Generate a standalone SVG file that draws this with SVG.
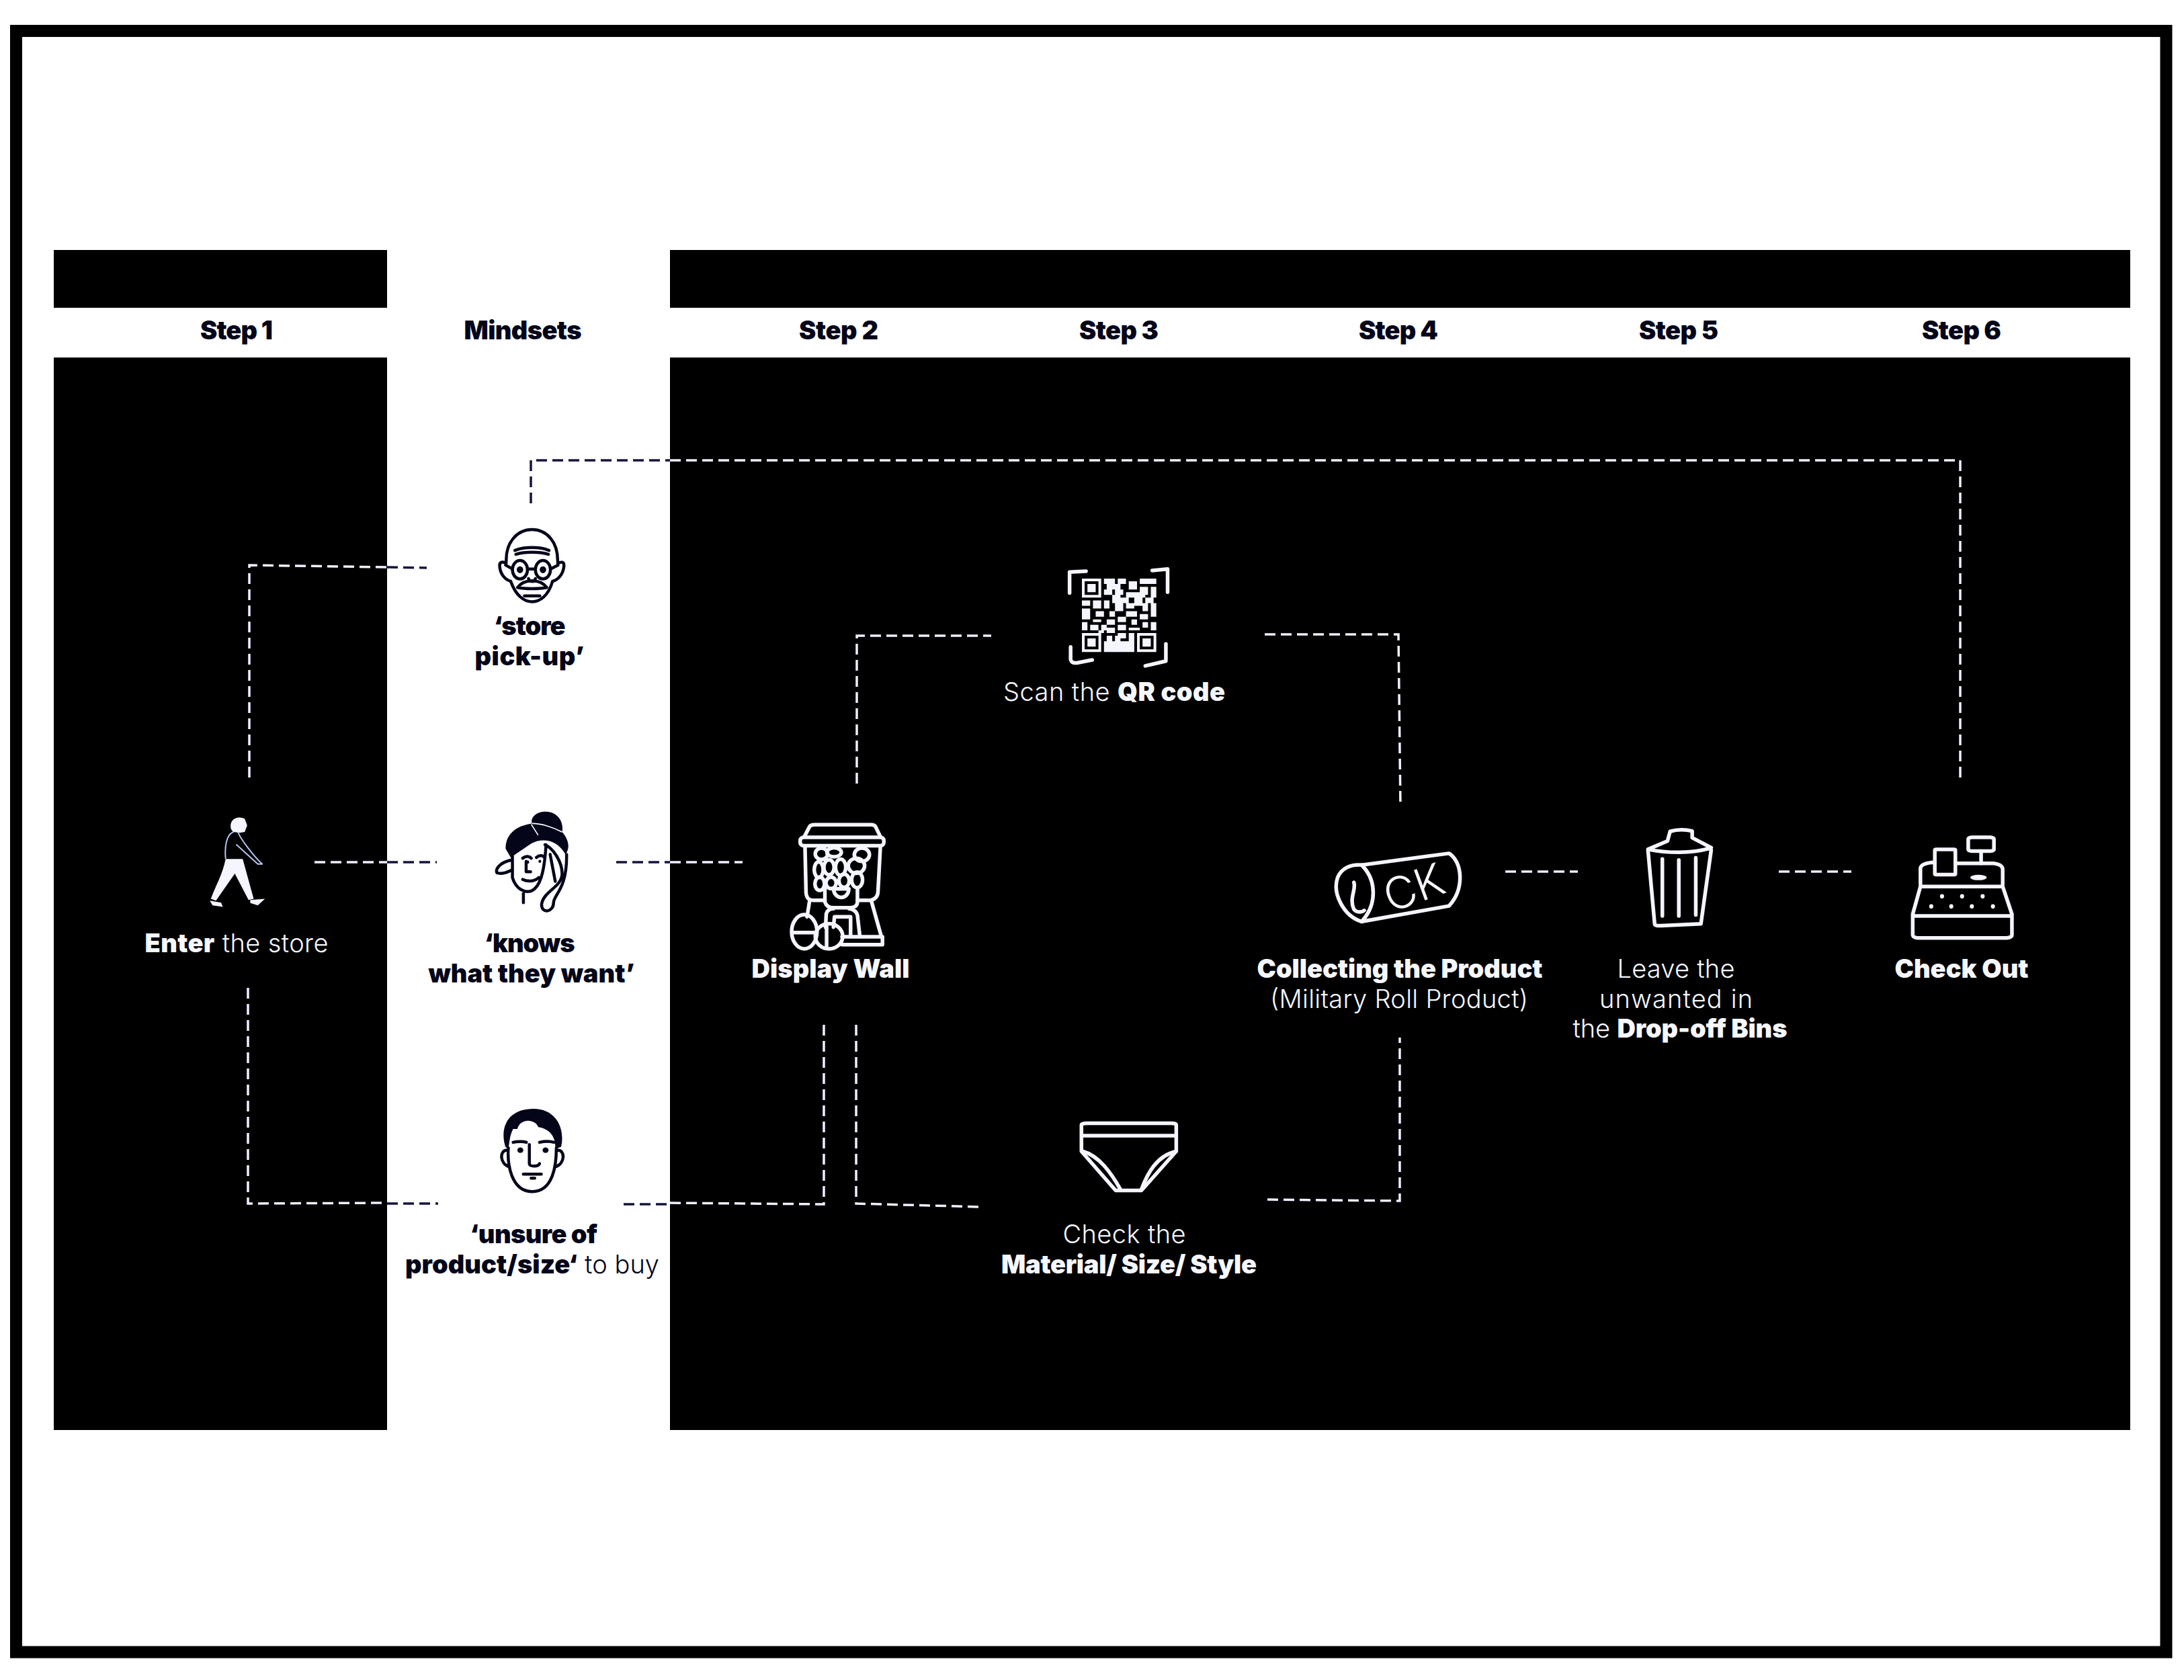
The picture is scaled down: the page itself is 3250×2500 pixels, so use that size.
<svg xmlns="http://www.w3.org/2000/svg" width="3250" height="2500" viewBox="0 0 3250 2500">
<style>
text{font-family:"Inter","Liberation Sans",sans-serif;text-anchor:middle;font-size:38px}
text:not(.ck){transform:translateY(1.5px)}
.b{font-weight:900}
.l{font-weight:300}
.w{fill:#f6f7ff}
.k{fill:#05051a}
.dw,.dk{fill:none;stroke-width:3.5;stroke-dasharray:16 8}
.dw{stroke:#eef0ff}
.dk{stroke:#14143c}
.iw,.ik{fill:none;stroke-linecap:round;stroke-linejoin:round}
.iw{stroke:#f4f5ff;stroke-width:5.5}
.ik{stroke:#05051a;stroke-width:4.5}
.ik path,.ik ellipse,.iw path,.iw ellipse,.iw rect{vector-effect:non-scaling-stroke}
</style>
<rect width="3250" height="2500" fill="#fff"/>
<g id="frame">
<rect x="24" y="46" width="3199.5" height="2412.5" fill="none" stroke="#000" stroke-width="18"/>
<rect x="80" y="372" width="496" height="86" fill="#000"/>
<rect x="997" y="372" width="2173" height="86" fill="#000"/>
<rect x="80" y="532" width="496" height="1596" fill="#000"/>
<rect x="997" y="532" width="2173" height="1596" fill="#000"/>
</g>
<g id="headers">
<text class="b k" x="352" y="503" textLength="108">Step 1</text>
<text class="b k" x="778" y="503" textLength="175">Mindsets</text>
<text class="b k" x="1248" y="503" textLength="118">Step 2</text>
<text class="b k" x="1665" y="503" textLength="118">Step 3</text>
<text class="b k" x="2081" y="503" textLength="118">Step 4</text>
<text class="b k" x="2498" y="503" textLength="118">Step 5</text>
<text class="b k" x="2919" y="503" textLength="118">Step 6</text>
</g>
<g id="connectors">
<path class="dk" d="M790 749V685H997"/>
<path class="dw" d="M997 685H2917V1157"/>
<path class="dw" d="M371 1157V841L576 844"/>
<path class="dk" d="M576 844L635 845"/>
<path class="dw" d="M468 1283H576"/>
<path class="dk" d="M576 1283H650"/>
<path class="dk" d="M917 1283H997"/>
<path class="dw" d="M997 1283H1105"/>
<path class="dw" d="M1275 1166V946H1475"/>
<path class="dw" d="M1882 944H2081L2084 1201"/>
<path class="dw" d="M369 1470V1791L576 1790"/>
<path class="dk" d="M576 1791H652"/>
<path class="dk" d="M928 1792H997"/>
<path class="dw" d="M997 1790L1226 1792V1525"/>
<path class="dw" d="M1274 1525V1791L1459 1796"/>
<path class="dw" d="M1886 1785L2083 1787V1544"/>
<path class="dw" d="M2240 1297H2348"/>
<path class="dw" d="M2647 1297H2755"/>
</g>
<g id="enter">
<g transform="translate(250 640) scale(.51 .574)">
<path fill="#f4f5ff" d="M168 1112L218 1112L250 1215L235 1218L195 1150L140 1220L125 1215C140 1180 160 1150 168 1112Z"/>
<path fill="#f4f5ff" d="M122 1220L155 1225L160 1236L130 1232ZM240 1218L283 1215L262 1232L240 1226Z"/>
<path fill="#f4f5ff" d="M184 1035C176 1008 205 998 224 1008L231 1025L224 1042L210 1044L190 1042Z"/>
<g class="iw" style="stroke-width:2;stroke:#b8c4f0"><path d="M190 1042C170 1050 165 1080 168 1110M205 1044C212 1060 250 1105 275 1125L262 1125L200 1075"/></g>
</g>
<text class="w" x="352" y="1415" textLength="273"><tspan class="b">Enter</tspan><tspan class="l"> the store</tspan></text>
</g>
<g id="mindset-store">
<g class="ik" transform="translate(250 640) scale(.51 .574)">
<path d="M987 340C985 290 1020 258 1062 258C1105 258 1138 290 1137 340M987 345C985 345 965 335 968 355C970 375 985 388 1000 392M1137 345C1140 345 1158 335 1155 355C1152 375 1138 388 1122 392M1000 392C1015 430 1040 445 1062 445C1085 445 1110 430 1122 392"/>
<path d="M1012 312C1040 302 1085 302 1112 312M1015 322C1040 315 1085 315 1110 322"/>
<ellipse cx="1027" cy="362" rx="22" ry="24"/><ellipse cx="1094" cy="362" rx="22" ry="24"/>
<path d="M1049 360H1072M1005 360L985 350M1116 360L1138 350M1052 385C1055 395 1070 395 1072 385M1020 408C1040 385 1085 385 1105 408C1085 412 1040 412 1020 408ZM1040 430H1085"/>
<ellipse cx="1027" cy="362" rx="5" ry="5" fill="#05051a"/><ellipse cx="1094" cy="362" rx="5" ry="5" fill="#05051a"/>
</g>
<text class="b k" x="788" y="943" textLength="107">‘store</text>
<text class="b k" x="788" y="988" textLength="163">pick-up’</text>
</g>
<g id="mindset-knows">
<g transform="translate(250 640) scale(.51 .574)">
<path fill="#05051a" d="M985 1085C985 1045 1020 1025 1062 1020C1055 1000 1085 985 1112 990C1142 995 1155 1020 1150 1042C1172 1065 1172 1085 1160 1100C1130 1055 1085 1060 1060 1072L1000 1108Z"/>
<path fill="none" stroke="#fff" stroke-width="3" d="M1062 1020C1090 1020 1125 1030 1150 1042M1060 1022L1080 1050"/>
<g class="ik"><path d="M1005 1105V1160C1015 1190 1040 1200 1060 1195C1085 1185 1098 1150 1103 1075M1100 1075C1125 1085 1150 1120 1150 1150C1150 1185 1095 1195 1090 1230C1090 1255 1125 1250 1125 1225C1125 1205 1165 1190 1163 1100M1115 1100L1130 1170M1000 1115C965 1122 955 1140 960 1148C975 1152 990 1146 1005 1140M1035 1110C1045 1103 1055 1105 1060 1110M1075 1108C1085 1100 1095 1103 1098 1108M1045 1118V1145H1058M1035 1165C1050 1172 1070 1170 1082 1160M1037 1200V1225"/></g>
<ellipse cx="1050" cy="1120" rx="4" ry="4" fill="#05051a"/><ellipse cx="1085" cy="1118" rx="4" ry="4" fill="#05051a"/>
</g>
<text class="b k" x="788" y="1415" textLength="135">‘knows</text>
<text class="b k" x="791" y="1460" textLength="307">what they want’</text>
</g>
<g id="mindset-unsure">
<g transform="translate(560 1600) scale(.893 .333)">
<path fill="#05051a" d="M215 320C205 230 220 150 262 150C300 150 315 240 308 320L298 330C300 280 290 240 270 232C265 195 240 190 235 240L228 240C222 270 222 300 220 330Z"/>
<g class="ik"><path d="M220 325C218 400 225 520 260 520C295 520 300 400 300 325M218 335C205 335 205 395 222 410M302 335C315 335 315 395 298 410M228 300C235 295 245 295 250 300M272 300C280 295 290 295 296 300M255 310V395C255 410 270 410 272 395M245 442H275M258 460H264"/></g>
<ellipse cx="240" cy="335" rx="5" ry="12" fill="#05051a"/><ellipse cx="282" cy="335" rx="5" ry="12" fill="#05051a"/>
</g>
<text class="b k" x="794" y="1848" textLength="190">‘unsure of</text>
<text class="k" x="792" y="1893" textLength="378"><tspan class="b">product/size‘</tspan><tspan class="l"> to buy</tspan></text>
</g>
<g id="display-wall">
<g class="iw" transform="translate(1100 800) scale(.51 .446)">
<path d="M190 998L205 965Q208 958 220 958L385 958Q395 958 398 965L412 998"/>
<rect x="178" y="1000" width="244" height="28" rx="10"/>
<path d="M192 1030L195 1185C197 1205 205 1210 215 1210L250 1210M345 1210L385 1210C400 1205 405 1195 405 1180L412 1030"/>
<ellipse cx="240" cy="1055" rx="18" ry="19"/><ellipse cx="277" cy="1050" rx="21" ry="15"/><ellipse cx="358" cy="1058" rx="22" ry="22"/>
<ellipse cx="232" cy="1108" rx="13" ry="26"/><ellipse cx="262" cy="1100" rx="15" ry="25"/><ellipse cx="296" cy="1100" rx="15" ry="27"/><ellipse cx="342" cy="1095" rx="24" ry="25"/>
<ellipse cx="235" cy="1155" rx="14" ry="22"/><ellipse cx="268" cy="1152" rx="15" ry="19"/><ellipse cx="306" cy="1145" rx="15" ry="22"/><ellipse cx="344" cy="1142" rx="16" ry="26"/>
<path d="M275 1172H320C318 1210 278 1210 275 1172Z"/>
<path d="M250 1170V1215Q255 1235 275 1235H320Q345 1235 345 1215V1170M205 1215L198 1265M385 1210L415 1332M252 1300L254 1255Q258 1238 275 1238M320 1238Q340 1240 345 1260L352 1330M275 1300L278 1265H325V1330M300 1332H418V1358H300"/>
<ellipse cx="190" cy="1315" rx="37" ry="57"/><path d="M155 1318H226"/>
<ellipse cx="262" cy="1330" rx="40" ry="42"/><path d="M255 1290V1370"/>
</g>
<text class="b w" x="1236" y="1453" textLength="235">Display Wall</text>
</g>
<g id="scan-qr">
<g class="iw" transform="translate(1100 800) scale(.51 .446)">
<path d="M964 185V115L1012 112M1205 110L1250 105V182M967 365V405Q968 420 985 418L1030 408M1245 355V412L1185 428"/>
</g>
<g transform="translate(1610 861) scale(4.1 4.05)" fill="#f4f5ff">
<path fill-rule="evenodd" d="M0 0H7V7H0ZM1 1V6H6V1ZM2 2H5V5H2ZM20 20H27V27H20ZM21 21V26H26V21ZM22 22H25V25H22ZM0 20H7V27H0ZM1 21V26H6V21ZM2 22H5V25H2Z"/>
<path d="M8 0h4v2h-4zM13 0h3v2h-3zM17 1h3v3h-3zM21 0h6v2h-6zM9 2h5v2h-5zM8 4h3v2h-3zM12 4h3v2h-3zM16 5h4v2h-4zM21 3h3v3h-3zM25 3h2v4h-2zM11 6h3v3h-3zM20 5h3v2h-3zM14 7h3v2h-3zM19 7h3v3h-3zM23 7h3v2h-3zM0 8h3v2h-3zM4 8h3v3h-3zM8 8h2v3h-2zM12 9h3v3h-3zM16 9h3v2h-3zM22 9h2v3h-2zM25 9h2v5h-2zM0 11h3v4h-3zM16 12h4v2h-4zM10 12h2v2h-2zM5 12h3v2h-3zM21 13h3v2h-3zM9 15h3v2h-3zM13 14h3v2h-3zM18 15h2v2h-2zM0 16h2v3h-2zM4 15h3v1h-3zM3 17h3v2h-3zM7 17h2v2h-2zM13 17h3v2h-3zM22 16h2v2h-2zM25 16h2v3h-2zM9 18h3v2h-3zM17 18h4v1h-4zM6 19h2v1h-2zM9 21h2v2h-2zM13 20h3v2h-3zM17 20h2v3h-2zM8 23h11v4h-11zM12 21h2v2h-2z"/>
</g>
<text class="w" x="1658" y="1041" textLength="330"><tspan class="l">Scan the </tspan><tspan class="b">QR code</tspan></text>
</g>
<g id="collect">
<g class="iw" transform="translate(1900 1150) scale(.765 .333)">
<path d="M165 412L335 360C362 400 365 520 335 595L165 665C130 640 108 540 118 470C125 425 145 408 165 412Z"/>
<path d="M165 412C195 480 195 590 165 665M150 490C155 520 140 560 150 610C155 625 165 625 170 615"/>
</g>
<text class="w l ck" transform="translate(2112 1343) rotate(-20)" style="font-size:66px">CK</text>
<text class="b w" x="2083" y="1453" textLength="425">Collecting the Product</text>
<text class="l w" x="2082" y="1498" textLength="384">(Military Roll Product)</text>
</g>
<g id="bin">
<g class="iw" transform="translate(1900 1150) scale(.765 .333)">
<path d="M722 345L735 675Q735 685 748 683L825 675L845 345M722 342L760 305L765 262Q785 248 808 260L808 290L845 335C810 362 760 360 722 342Z"/>
<path d="M750 385V640M782 390V640M815 380V635"/>
</g>
<text class="l w" x="2494" y="1453" textLength="175">Leave the</text>
<text class="l w" x="2494" y="1498" textLength="228">unwanted in</text>
<text class="w" x="2500" y="1542" textLength="319"><tspan class="l">the </tspan><tspan class="b">Drop-off Bins</tspan></text>
</g>
<g id="checkout">
<g class="iw" transform="translate(1900 1150) scale(.765 .333)">
<path d="M1252 500V425Q1255 402 1280 400M1320 405H1395Q1412 410 1412 432V505M1252 508H1412M1252 508L1237 632M1412 508L1430 632M1237 640H1430M1237 632V725Q1238 738 1250 738L1420 738Q1430 735 1430 725V632"/>
<rect x="1280" y="342" width="40" height="113" rx="3"/>
<rect x="1345" y="288" width="50" height="62" rx="8"/>
<path d="M1370 350V405"/>
</g>
<g transform="translate(1900 1150) scale(.765 .333)" fill="#f4f5ff">
<ellipse cx="1365" cy="468" rx="16" ry="12"/>
<ellipse cx="1294" cy="552" rx="4" ry="10"/><ellipse cx="1333" cy="552" rx="4" ry="10"/><ellipse cx="1373" cy="552" rx="4" ry="10"/>
<ellipse cx="1273" cy="597" rx="4" ry="10"/><ellipse cx="1312" cy="597" rx="4" ry="10"/><ellipse cx="1352" cy="597" rx="4" ry="10"/><ellipse cx="1393" cy="597" rx="4" ry="10"/>
</g>
<text class="b w" x="2919" y="1453" textLength="199">Check Out</text>
</g>
<g id="check-material">
<g class="iw" transform="translate(560 1600) scale(.893 .333)">
<path d="M1175 270V222Q1175 215 1185 215H1325Q1333 215 1333 222V270M1175 270H1333M1175 270V340L1232 515H1275L1333 340V270"/>
<path d="M1177 340C1205 360 1225 440 1240 510M1333 340C1300 360 1285 440 1275 510"/>
</g>
<text class="l w" x="1673" y="1848" textLength="183">Check the</text>
<text class="b w" x="1680" y="1893" textLength="380">Material/ Size/ Style</text>
</g>
</svg>
